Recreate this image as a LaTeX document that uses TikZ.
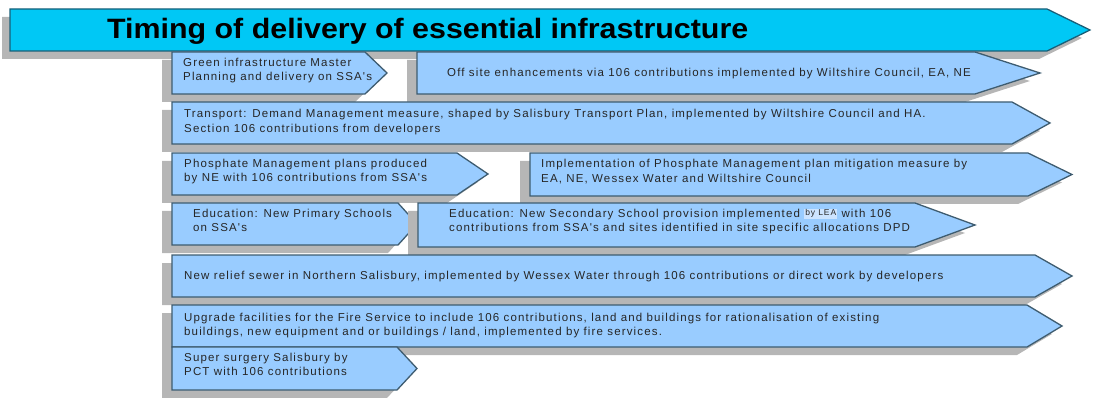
\documentclass[tikz,border=0pt]{standalone}
\usepackage{fontspec}
\setmainfont{Liberation Sans}
\newfontfamily\boxfont[LetterSpace=10]{Liberation Sans}
\usepackage{graphicx}
\definecolor{boxfill}{RGB}{153,204,255}
\definecolor{boxline}{RGB}{62,92,112}
\definecolor{titlefill}{RGB}{0,200,245}
\definecolor{titleline}{RGB}{25,95,120}
\definecolor{shade}{RGB}{182,182,182}
\definecolor{leabg}{RGB}{205,228,255}
\newcommand\chevpath[5]{(#1,#2) -- (#3,#2) -- (#4,{(#2+#5)/2}) -- (#3,#5) -- (#1,#5) -- cycle}
\newcommand\chevbox[6]{%
  \fill[shadowfill] \chevpath{#2-10}{#3+8}{#4-10}{#5-10}{#6+8};
  \path[boxstyle] \chevpath{#2}{#3}{#4}{#5}{#6} coordinate (#1-tip) at (#5,{(#3+#6)/2});
}
\tikzset{
  boxstyle/.style={fill=boxfill, draw=boxline, line width=1.3pt, line join=miter},
  titlestyle/.style={fill=titlefill, draw=titleline, line width=1.3pt},
  shadowfill/.style={fill=shade},
  lbl/.style={anchor=base west, inner sep=0pt, align=left, font=\boxfont\fontsize{11.5}{14.5}\selectfont, text=black!85},
}
\begin{document}
\begin{tikzpicture}[x=1pt, y=-1pt]
\useasboundingbox (0,0) rectangle (1095,398);
% title
\fill[shadowfill] \chevpath{2}{17}{1039}{1082}{59};
\path[titlestyle] \chevpath{10}{9}{1047}{1090}{51};
\node[anchor=base west, inner sep=0pt] (title) at (107,39)
  {\resizebox{641pt}{\height}{\fontsize{28}{30}\selectfont\bfseries Timing of delivery of essential infrastructure}};
% row 1
\chevbox{green}{172}{52}{365}{387}{94}
\node[lbl] (greent) at (183,81) {Green infrastructure Master\\Planning and delivery on SSA's};
\chevbox{offsite}{417}{52}{975}{1040}{94}
\node[lbl] (offsitet) at (447,77) {Off site enhancements via 106 contributions implemented by Wiltshire Council, EA, NE};
% row 2
\chevbox{transport}{172}{102}{1012}{1050}{144}
\node[lbl] (transportt) at (184,132.5) {Transport: Demand Management measure, shaped by Salisbury Transport Plan, implemented by Wiltshire Council and HA.\\Section 106 contributions from developers};
% row 3
\chevbox{phos}{172}{153}{457}{488}{195}
\node[lbl] (phost) at (184,182) {Phosphate Management plans produced\\by NE with 106 contributions from SSA's};
\chevbox{impl}{530}{153}{1028}{1072}{196}
\node[lbl] (implt) at (541,182.5) {Implementation of Phosphate Management plan mitigation measure by\\EA, NE, Wessex Water and Wiltshire Council};
% row 4
\chevbox{prim}{172}{203}{398}{417}{245}
\node[lbl] (primt) at (193,232) {Education: New Primary Schools\\on SSA's};
\chevbox{sec}{418}{203}{915}{975}{247}
\node[lbl] (sect) at (449,232) {Education: New Secondary School provision implemented {\setlength{\fboxsep}{1pt}\raisebox{1.5pt}{\colorbox{leabg}{\fontsize{8.5}{9}\selectfont by LEA}}} with 106\\contributions from SSA's and sites identified in site specific allocations DPD};
% row 5
\chevbox{sewer}{172}{255}{1035}{1072}{297}
\node[lbl] (sewert) at (184,279) {New relief sewer in Northern Salisbury, implemented by Wessex Water through 106 contributions or direct work by developers};
% row 6
\chevbox{fire}{172}{305}{1027}{1062}{347}
\node[lbl] (firet) at (184,335.5) {Upgrade facilities for the Fire Service to include 106 contributions, land and buildings for rationalisation of existing\\buildings, new equipment and or buildings / land, implemented by fire services.};
% row 7
\chevbox{super}{172}{347}{397}{417}{390}
\node[lbl] (supert) at (184,375.5) {Super surgery Salisbury by\\PCT with 106 contributions};
\end{tikzpicture}
\end{document}
